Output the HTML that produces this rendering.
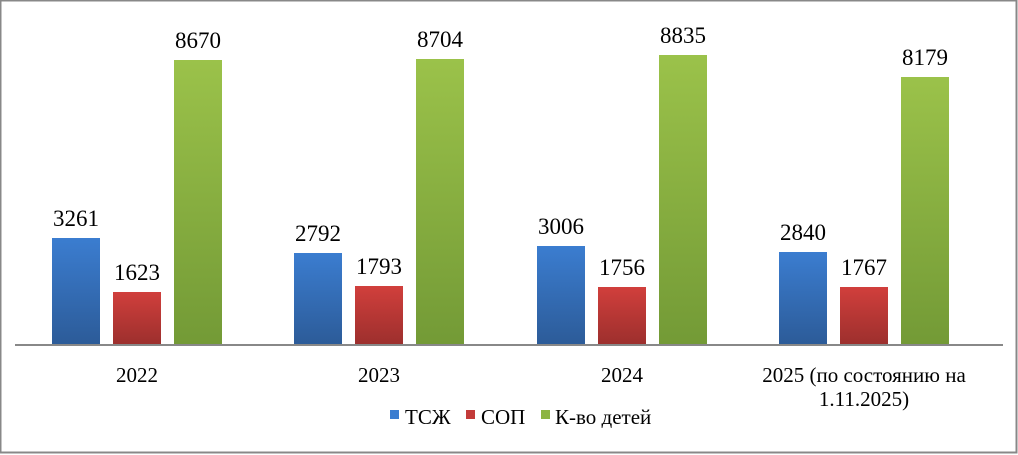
<!DOCTYPE html><html><head><meta charset="utf-8"><style>body{margin:0;background:#fff}svg{display:block}</style></head><body>
<svg width="1018" height="455" xmlns="http://www.w3.org/2000/svg" font-family="Liberation Serif, serif">
<defs>
<linearGradient id="b" x1="0" y1="0" x2="0" y2="1"><stop offset="0" stop-color="#3b7dd0"/><stop offset="1" stop-color="#2c5b98"/></linearGradient>
<linearGradient id="r" x1="0" y1="0" x2="0" y2="1"><stop offset="0" stop-color="#d13f3c"/><stop offset="1" stop-color="#9c2f2d"/></linearGradient>
<linearGradient id="g" x1="0" y1="0" x2="0" y2="1"><stop offset="0" stop-color="#9bc24a"/><stop offset="1" stop-color="#739a36"/></linearGradient>
</defs>
<rect x="0.5" y="0.5" width="1016" height="452" fill="#fff" stroke="#888" stroke-width="2"/>
<g font-size="23" text-anchor="middle" fill="#000">
<rect x="52" y="238" width="48" height="107" fill="url(#b)"/><rect x="113" y="292" width="48" height="53" fill="url(#r)"/><rect x="174" y="60" width="48" height="285" fill="url(#g)"/>
<text x="76" y="226">3261</text><text x="137" y="280">1623</text><text x="198" y="48">8670</text>
<rect x="294" y="253" width="48" height="92" fill="url(#b)"/><rect x="355" y="286" width="48" height="59" fill="url(#r)"/><rect x="416" y="59" width="48" height="286" fill="url(#g)"/>
<text x="318" y="241">2792</text><text x="379" y="274">1793</text><text x="440" y="47">8704</text>
<rect x="537" y="246" width="48" height="99" fill="url(#b)"/><rect x="598" y="287" width="48" height="58" fill="url(#r)"/><rect x="659" y="55" width="48" height="290" fill="url(#g)"/>
<text x="561" y="234">3006</text><text x="622" y="275">1756</text><text x="683" y="43">8835</text>
<rect x="779" y="252" width="48" height="93" fill="url(#b)"/><rect x="840" y="287" width="48" height="58" fill="url(#r)"/><rect x="901" y="77" width="48" height="268" fill="url(#g)"/>
<text x="803" y="240">2840</text><text x="864" y="275">1767</text><text x="925" y="65">8179</text>
<line x1="15" y1="345" x2="1003" y2="345" stroke="#888" stroke-width="2"/>
</g>
<g font-size="21" text-anchor="middle" fill="#000">
<text x="137" y="382">2022</text><text x="379" y="382">2023</text><text x="622" y="382">2024</text>
<text x="864" y="382">2025 (по состоянию на</text><text x="864" y="406">1.11.2025)</text>
</g>
<g font-size="21">
<rect x="390" y="410" width="9" height="9" fill="#3b7dd0"/><text x="405" y="424">ТСЖ</text>
<rect x="466" y="410" width="9" height="9" fill="#c33b39"/><text x="481" y="424">СОП</text>
<rect x="541" y="410" width="9" height="9" fill="#8db443"/><text x="555" y="424">К-во детей</text>
</g>
</svg></body></html>
